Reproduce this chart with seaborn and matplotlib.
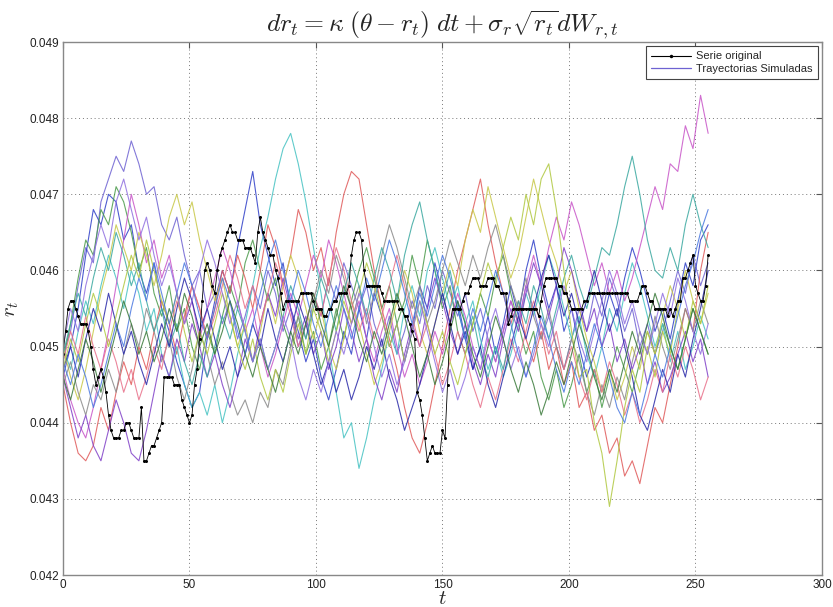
import numpy as np
import pandas as pd
import matplotlib
matplotlib.use("Agg")
import matplotlib.pyplot as plt
from matplotlib.lines import Line2D
import seaborn as sns

# ---------------- data (values in percent) ----------------
orig_pct = [
    4.49,4.52,4.55,4.56,4.56,4.55,4.54,4.53,4.53,4.53,
    4.52,4.50,4.47,4.45,4.46,4.47,4.46,4.44,4.41,4.39,
    4.38,4.38,4.38,4.39,4.39,4.40,4.40,4.39,4.38,4.38,
    4.38,4.42,4.35,4.35,4.36,4.37,4.37,4.38,4.39,4.40,
    4.46,4.46,4.46,4.46,4.45,4.45,4.45,4.43,4.42,4.41,
    4.40,4.41,4.45,4.47,4.51,4.56,4.60,4.61,4.60,4.58,
    4.57,4.60,4.62,4.63,4.64,4.65,4.66,4.65,4.65,4.64,
    4.64,4.64,4.63,4.63,4.63,4.62,4.61,4.65,4.67,4.65,
    4.64,4.63,4.62,4.62,4.60,4.59,4.57,4.55,4.56,4.56,
    4.56,4.56,4.56,4.56,4.57,4.57,4.57,4.57,4.57,4.56,
    4.55,4.55,4.55,4.54,4.54,4.55,4.55,4.56,4.56,4.57,
    4.57,4.57,4.57,4.58,4.62,4.64,4.65,4.65,4.64,4.60,
    4.58,4.58,4.58,4.58,4.58,4.58,4.57,4.56,4.56,4.56,
    4.56,4.56,4.56,4.55,4.55,4.54,4.54,4.53,4.52,4.51,
    4.44,4.43,4.41,4.38,4.35,4.36,4.37,4.36,4.36,4.36,
    4.39,4.38,4.45,4.53,4.55,4.55,4.55,4.55,4.56,4.57,
    4.57,4.58,4.59,4.59,4.59,4.58,4.58,4.58,4.59,4.59,
    4.59,4.58,4.58,4.57,4.57,4.57,4.53,4.54,4.55,4.55,
    4.55,4.55,4.55,4.55,4.55,4.55,4.55,4.55,4.54,4.56,
    4.58,4.59,4.59,4.59,4.59,4.59,4.58,4.58,4.57,4.57,
    4.56,4.55,4.55,4.55,4.55,4.55,4.56,4.56,4.57,4.57,
    4.57,4.57,4.57,4.57,4.57,4.57,4.57,4.57,4.57,4.57,
    4.57,4.57,4.57,4.57,4.56,4.56,4.56,4.56,4.57,4.58,
    4.58,4.57,4.56,4.56,4.55,4.55,4.55,4.55,4.55,4.54,
    4.55,4.54,4.55,4.56,4.56,4.59,4.59,4.60,4.61,4.62,
    4.58,4.57,4.56,4.56,4.58,4.62,
]

sim1 = [4.49,4.52,4.58,4.63,4.61,4.69,4.72,4.75,4.73,4.77,
        4.74,4.70,4.71,4.66,4.64,4.67,4.62,4.58,4.60,4.55,
        4.57,4.53,4.56,4.51,4.54,4.58,4.55,4.60,4.57,4.52,
        4.55,4.50,4.53,4.57,4.54,4.59,4.56,4.61,4.58,4.55,
        4.58,4.53,4.50,4.54,4.49,4.52,4.56,4.53,4.58,4.55,
        4.60,4.57,4.54,4.57,4.52,4.55,4.51,4.48,4.52,4.56,
        4.53,4.58,4.55,4.51,4.54,4.50,4.47,4.51,4.55,4.52,
        4.57,4.54,4.59,4.56,4.52,4.55,4.50,4.53,4.49,4.52,
        4.56,4.60,4.57,4.62,4.58,4.61]
sim2 = [4.46,4.50,4.55,4.62,4.68,4.66,4.70,4.69,4.64,4.66,
        4.60,4.57,4.61,4.55,4.52,4.48,4.45,4.42,4.44,4.51,
        4.56,4.60,4.57,4.63,4.68,4.73,4.66,4.62,4.58,4.61,
        4.55,4.52,4.48,4.51,4.46,4.43,4.47,4.52,4.49,4.55,
        4.51,4.57,4.54,4.50,4.53,4.48,4.52,4.58,4.55,4.61,
        4.57,4.53,4.56,4.51,4.47,4.50,4.54,4.49,4.53,4.58,
        4.54,4.60,4.64,4.59,4.55,4.58,4.52,4.55,4.50,4.46,
        4.49,4.53,4.57,4.54,4.59,4.63,4.60,4.56,4.52,4.55,
        4.51,4.56,4.61,4.58,4.64,4.66]
sim3 = [4.48,4.53,4.59,4.64,4.62,4.68,4.66,4.71,4.69,4.65,
        4.60,4.63,4.57,4.54,4.58,4.52,4.55,4.50,4.47,4.52,
        4.49,4.54,4.58,4.55,4.61,4.64,4.60,4.56,4.59,4.53,
        4.50,4.54,4.49,4.52,4.47,4.50,4.55,4.51,4.56,4.60,
        4.63,4.59,4.55,4.58,4.53,4.56,4.62,4.58,4.64,4.60,
        4.55,4.58,4.52,4.49,4.53,4.57,4.54,4.59,4.62,4.57,
        4.53,4.49,4.52,4.46,4.43,4.47,4.42,4.45,4.49,4.44,
        4.47,4.42,4.46,4.50,4.47,4.44,4.48,4.52,4.49,4.53,
        4.50,4.47,4.51,4.55,4.52,4.49]
sim4 = [4.45,4.40,4.36,4.35,4.37,4.42,4.39,4.44,4.48,4.45,
        4.50,4.47,4.52,4.56,4.53,4.49,4.54,4.58,4.55,4.51,
        4.55,4.60,4.57,4.62,4.59,4.55,4.60,4.66,4.63,4.58,
        4.62,4.68,4.65,4.60,4.63,4.58,4.65,4.70,4.73,4.72,
        4.66,4.60,4.55,4.51,4.47,4.42,4.38,4.36,4.40,4.45,
        4.50,4.55,4.60,4.64,4.68,4.72,4.66,4.61,4.57,4.53,
        4.56,4.51,4.48,4.52,4.47,4.50,4.45,4.48,4.42,4.44,
        4.39,4.41,4.36,4.38,4.33,4.35,4.32,4.37,4.42,4.40,
        4.45,4.50,4.55,4.52,4.60,4.65]
sim5 = [4.50,4.47,4.52,4.56,4.53,4.58,4.62,4.59,4.55,4.60,
        4.57,4.52,4.55,4.49,4.46,4.50,4.45,4.42,4.44,4.41,
        4.45,4.40,4.44,4.49,4.53,4.58,4.63,4.67,4.72,4.76,
        4.78,4.74,4.69,4.63,4.57,4.50,4.44,4.38,4.40,4.34,
        4.38,4.43,4.47,4.52,4.49,4.55,4.58,4.54,4.60,4.63,
        4.59,4.55,4.58,4.53,4.56,4.51,4.47,4.50,4.46,4.49,
        4.53,4.57,4.54,4.58,4.62,4.59,4.55,4.51,4.54,4.49,
        4.46,4.50,4.55,4.52,4.57,4.61,4.58,4.54,4.50,4.53,
        4.48,4.52,4.47,4.50,4.54,4.51]
sim6 = [4.47,4.43,4.40,4.38,4.42,4.47,4.52,4.58,4.64,4.70,
        4.66,4.61,4.64,4.59,4.62,4.57,4.53,4.56,4.51,4.55,
        4.59,4.63,4.60,4.56,4.52,4.55,4.50,4.46,4.49,4.53,
        4.57,4.54,4.58,4.62,4.59,4.64,4.61,4.57,4.53,4.56,
        4.51,4.48,4.52,4.55,4.50,4.46,4.49,4.45,4.48,4.52,
        4.49,4.53,4.57,4.54,4.50,4.47,4.51,4.48,4.52,4.56,
        4.53,4.58,4.62,4.58,4.63,4.67,4.64,4.69,4.66,4.62,
        4.58,4.61,4.57,4.60,4.56,4.59,4.63,4.67,4.71,4.68,
        4.74,4.73,4.79,4.76,4.83,4.78]
sim7 = [4.50,4.46,4.43,4.47,4.52,4.57,4.61,4.66,4.63,4.60,
        4.65,4.62,4.58,4.62,4.67,4.70,4.66,4.69,4.64,4.60,
        4.56,4.59,4.54,4.50,4.53,4.48,4.52,4.57,4.53,4.58,
        4.62,4.59,4.55,4.51,4.55,4.50,4.47,4.51,4.56,4.53,
        4.49,4.45,4.48,4.52,4.56,4.60,4.57,4.52,4.49,4.53,
        4.57,4.61,4.58,4.64,4.68,4.65,4.71,4.67,4.63,4.59,
        4.62,4.67,4.72,4.68,4.64,4.61,4.57,4.60,4.55,4.51,
        4.48,4.44,4.47,4.43,4.46,4.50,4.47,4.52,4.49,4.54,
        4.58,4.55,4.60,4.56,4.53,4.57]
sim8 = [4.45,4.48,4.44,4.41,4.45,4.43,4.47,4.44,4.49,4.53,
        4.50,4.55,4.52,4.48,4.51,4.46,4.43,4.47,4.52,4.49,
        4.45,4.48,4.44,4.41,4.43,4.40,4.44,4.42,4.47,4.45,
        4.50,4.54,4.51,4.56,4.60,4.57,4.62,4.59,4.55,4.58,
        4.53,4.57,4.62,4.66,4.63,4.59,4.55,4.58,4.53,4.56,
        4.60,4.64,4.61,4.58,4.62,4.59,4.63,4.66,4.62,4.58,
        4.55,4.59,4.54,4.51,4.55,4.50,4.47,4.51,4.48,4.44,
        4.41,4.45,4.42,4.46,4.43,4.48,4.52,4.49,4.54,4.50,
        4.47,4.51,4.55,4.52,4.56,4.53]
sim9 = [4.46,4.42,4.38,4.41,4.37,4.35,4.39,4.43,4.40,4.36,
        4.35,4.39,4.44,4.49,4.46,4.51,4.48,4.53,4.50,4.46,
        4.49,4.45,4.42,4.46,4.51,4.48,4.53,4.57,4.54,4.59,
        4.55,4.51,4.54,4.49,4.52,4.47,4.50,4.55,4.52,4.48,
        4.51,4.46,4.43,4.47,4.44,4.49,4.53,4.50,4.55,4.59,
        4.56,4.52,4.49,4.53,4.48,4.45,4.49,4.46,4.51,4.55,
        4.52,4.57,4.61,4.58,4.54,4.58,4.63,4.60,4.56,4.52,
        4.55,4.50,4.53,4.48,4.51,4.47,4.50,4.45,4.48,4.44,
        4.46,4.49,4.52,4.48,4.51,4.46]
sim10 = [4.48,4.52,4.49,4.54,4.50,4.47,4.51,4.48,4.44,4.47,
         4.43,4.46,4.50,4.47,4.52,4.56,4.53,4.58,4.55,4.51,
         4.54,4.58,4.62,4.59,4.55,4.58,4.53,4.57,4.61,4.58,
         4.54,4.50,4.53,4.57,4.54,4.59,4.63,4.60,4.56,4.52,
         4.55,4.51,4.54,4.58,4.62,4.58,4.54,4.50,4.53,4.49,
         4.45,4.48,4.52,4.49,4.45,4.42,4.46,4.43,4.47,4.51,
         4.48,4.52,4.56,4.53,4.49,4.52,4.47,4.50,4.46,4.43,
         4.47,4.44,4.48,4.45,4.41,4.44,4.40,4.43,4.47,4.44,
         4.49,4.46,4.50,4.47,4.43,4.46]
sim11 = [4.49,4.53,4.57,4.54,4.59,4.63,4.60,4.65,4.62,4.58,
         4.61,4.56,4.52,4.55,4.50,4.53,4.48,4.45,4.49,4.46,
         4.50,4.54,4.51,4.55,4.52,4.48,4.51,4.47,4.50,4.54,
         4.58,4.55,4.51,4.55,4.59,4.56,4.52,4.57,4.61,4.58,
         4.54,4.59,4.63,4.60,4.56,4.62,4.66,4.69,4.64,4.60,
         4.56,4.60,4.55,4.51,4.54,4.49,4.46,4.50,4.47,4.52,
         4.56,4.53,4.58,4.55,4.51,4.55,4.59,4.62,4.58,4.55,
         4.59,4.63,4.62,4.66,4.71,4.75,4.70,4.64,4.60,4.59,
         4.63,4.60,4.66,4.70,4.66,4.63]
sim12 = [4.47,4.50,4.46,4.51,4.55,4.52,4.57,4.53,4.49,4.52,
         4.48,4.45,4.49,4.53,4.50,4.55,4.59,4.56,4.52,4.55,
         4.51,4.47,4.50,4.46,4.49,4.53,4.50,4.55,4.51,4.48,
         4.52,4.56,4.53,4.49,4.45,4.48,4.44,4.47,4.43,4.46,
         4.50,4.47,4.51,4.46,4.43,4.39,4.42,4.45,4.49,4.53,
         4.57,4.53,4.49,4.52,4.47,4.50,4.45,4.42,4.46,4.50,
         4.54,4.51,4.55,4.59,4.62,4.58,4.54,4.57,4.53,4.56,
         4.60,4.56,4.52,4.55,4.50,4.46,4.41,4.39,4.43,4.47,
         4.44,4.49,4.46,4.51,4.55,4.60]
sim13 = [4.47,4.51,4.48,4.53,4.57,4.54,4.50,4.54,4.58,4.62,
         4.59,4.64,4.60,4.56,4.53,4.57,4.52,4.48,4.52,4.49,
         4.53,4.57,4.54,4.50,4.47,4.51,4.46,4.43,4.47,4.44,
         4.49,4.53,4.49,4.55,4.52,4.48,4.52,4.56,4.53,4.57,
         4.61,4.58,4.54,4.50,4.53,4.48,4.52,4.56,4.53,4.49,
         4.52,4.48,4.45,4.49,4.53,4.57,4.61,4.58,4.63,4.67,
         4.64,4.70,4.66,4.72,4.74,4.68,4.60,4.52,4.46,4.47,
         4.40,4.36,4.29,4.35,4.42,4.47,4.44,4.50,4.46,4.52,
         4.49,4.55,4.51,4.56,4.53,4.58]
sim14 = [4.50,4.55,4.52,4.58,4.62,4.66,4.63,4.69,4.72,4.68,
         4.64,4.67,4.62,4.58,4.61,4.57,4.53,4.56,4.60,4.64,
         4.61,4.57,4.53,4.56,4.52,4.48,4.51,4.47,4.50,4.54,
         4.51,4.46,4.43,4.47,4.44,4.48,4.52,4.49,4.53,4.57,
         4.54,4.50,4.46,4.49,4.45,4.48,4.52,4.56,4.52,4.48,
         4.44,4.47,4.43,4.46,4.50,4.47,4.52,4.55,4.51,4.47,
         4.50,4.46,4.49,4.53,4.50,4.54,4.58,4.55,4.51,4.48,
         4.52,4.56,4.60,4.57,4.53,4.56,4.52,4.49,4.53,4.57,
         4.54,4.59,4.56,4.52,4.49,4.53]
sim15 = [4.48,4.45,4.49,4.46,4.42,4.45,4.49,4.53,4.50,4.55,
         4.59,4.56,4.61,4.57,4.53,4.57,4.61,4.58,4.54,4.51,
         4.55,4.59,4.56,4.52,4.49,4.53,4.57,4.61,4.64,4.60,
         4.56,4.60,4.57,4.53,4.50,4.54,4.58,4.55,4.51,4.55,
         4.59,4.56,4.60,4.64,4.61,4.57,4.53,4.57,4.54,4.58,
         4.62,4.59,4.55,4.51,4.55,4.52,4.56,4.60,4.57,4.53,
         4.49,4.46,4.50,4.54,4.51,4.47,4.44,4.48,4.45,4.49,
         4.53,4.50,4.46,4.42,4.40,4.44,4.41,4.45,4.49,4.46,
         4.50,4.54,4.58,4.61,4.65,4.68]
sim16 = [4.46,4.43,4.47,4.51,4.48,4.44,4.48,4.52,4.56,4.53,
         4.49,4.52,4.48,4.51,4.55,4.52,4.57,4.54,4.50,4.53,
         4.49,4.52,4.56,4.53,4.49,4.46,4.50,4.47,4.44,4.48,
         4.52,4.49,4.53,4.57,4.53,4.50,4.54,4.58,4.55,4.51,
         4.48,4.52,4.49,4.53,4.57,4.54,4.50,4.46,4.49,4.45,
         4.48,4.52,4.56,4.53,4.49,4.46,4.50,4.54,4.51,4.47,
         4.44,4.48,4.45,4.41,4.44,4.48,4.45,4.49,4.53,4.50,
         4.46,4.43,4.47,4.44,4.48,4.52,4.49,4.53,4.57,4.54,
         4.50,4.47,4.51,4.55,4.52,4.49]

sims = [sim1, sim2, sim3, sim4, sim5, sim6, sim7, sim8,
        sim9, sim10, sim11, sim12, sim13, sim14, sim15, sim16]
sim_colors = ["#6e62d2", "#2f3fc8", "#4a9a4a", "#e05a5a", "#45c2c2", "#c855c8",
              "#c8c848", "#8a8a8a", "#8040c8", "#e8708a", "#3aa8a0", "#2828a8",
              "#b0c840", "#9070e0", "#4a78e0", "#3a7a3a"]

T_END = 255
x_ticks = [0, 50, 100, 150, 200, 250, 300]
y_ticks = [0.042, 0.043, 0.044, 0.045, 0.046, 0.047, 0.048, 0.049]

# ---------------- frames ----------------
rows = []
for k, s in enumerate(sims):
    tt = np.linspace(0, T_END, len(s))
    for t, v in zip(tt, s):
        rows.append({"t": t, "r": v / 100.0, "traj": f"s{k}"})
df_sim = pd.DataFrame(rows)
df_orig = pd.DataFrame({"t": np.arange(len(orig_pct)),
                        "r": np.array(orig_pct) / 100.0})

# ---------------- plot ----------------
sns.set_theme(style="white")
plt.rcParams["font.family"] = ["Liberation Sans", "DejaVu Sans"]
plt.rcParams["mathtext.fontset"] = "cm"

fig = plt.figure(figsize=(8.33, 6.07), dpi=100)
ax = fig.add_axes([0.0756, 0.0527, 0.9112, 0.8781])

pal = {f"s{k}": c for k, c in enumerate(sim_colors)}
sns.lineplot(data=df_sim, x="t", y="r", hue="traj", palette=pal,
             estimator=None, sort=False, legend=False, lw=0.8, alpha=0.85, ax=ax)
sns.lineplot(data=df_orig, x="t", y="r", color="black", estimator=None,
             sort=False, lw=0.6, marker="o", markersize=2.2,
             markeredgewidth=0, ax=ax)

ax.set_xlim(0, 300)
ax.set_ylim(0.042, 0.049)
ax.set_xticks(x_ticks)
ax.set_yticks(y_ticks)
ax.set_yticklabels([f"{v:.3f}" for v in y_ticks])
ax.grid(True, linestyle=(0, (1, 3)), color="#777777", linewidth=0.7)
ax.tick_params(direction="in", top=True, right=True, length=4, width=0.8,
               labelsize=8.5, colors="#555555", labelcolor="#222222", pad=3)
for sp in ax.spines.values():
    sp.set_color("#888888")
    sp.set_linewidth(1.0)

ax.set_xlabel("$t$", fontsize=15)
ax.xaxis.set_label_coords(0.5, -0.027)
ax.set_ylabel("$r_t$", fontsize=15, labelpad=6)
ax.set_title(r"$dr_t = \kappa\;(\theta - r_t)\;dt + \sigma_r\sqrt{r_t}dW_{r,t}$",
             fontsize=18.5, pad=7)

handles = [Line2D([0], [0], color="black", lw=0.8, marker="o", markersize=2.5,
                  markeredgewidth=0),
           Line2D([0], [0], color=sim_colors[0], lw=0.9)]
leg = ax.legend(handles, ["Serie original", "Trayectorias Simuladas"],
                loc="upper right", fontsize=8, frameon=True, fancybox=False,
                framealpha=1, edgecolor="#444444", handlelength=3.6,
                borderaxespad=0.4, borderpad=0.45, labelspacing=0.2,
                handletextpad=0.5)
leg.get_frame().set_linewidth(0.8)

fig.savefig("out.png", dpi=100)
